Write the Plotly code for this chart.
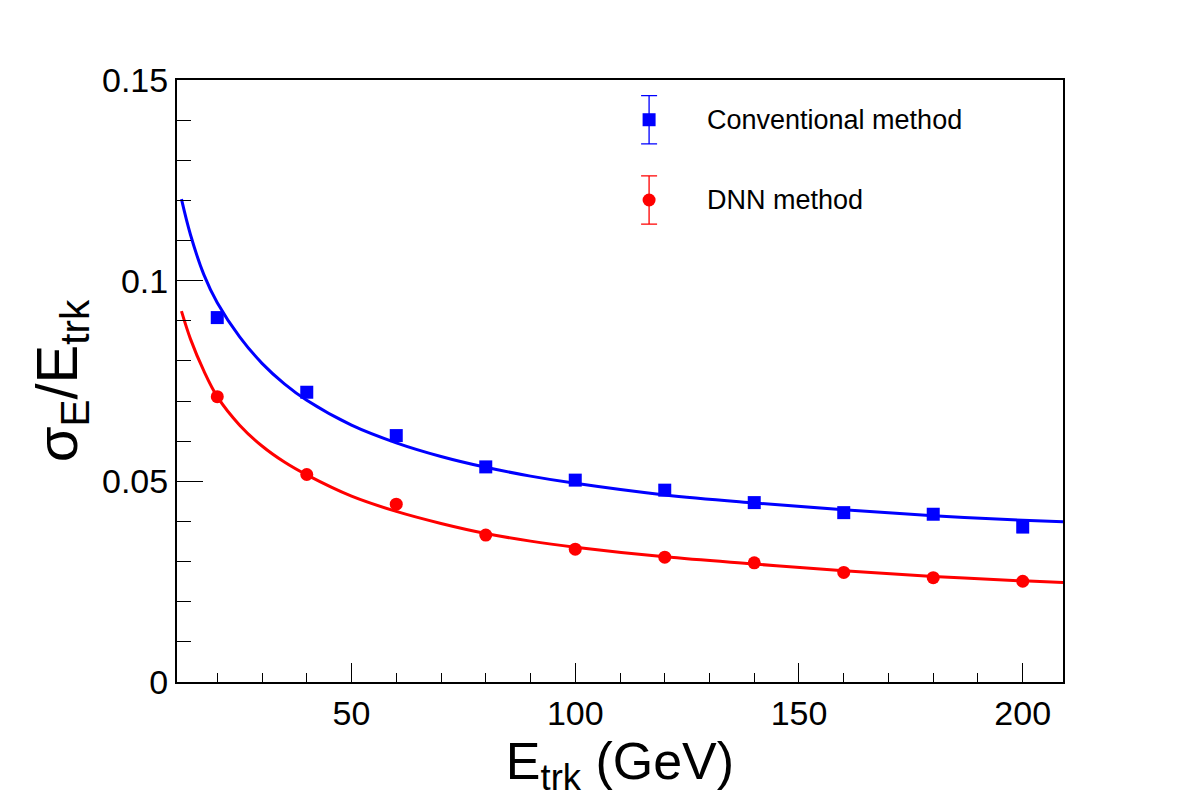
import plotly.graph_objects as go

# ---- data ----
energy = [20, 40, 60, 80, 100, 120, 140, 160, 180, 200]
conv_res = [0.0908, 0.0722, 0.0614, 0.0536, 0.0503, 0.0478, 0.0447, 0.0422, 0.0418, 0.0386]
dnn_res = [0.0711, 0.0517, 0.0443, 0.0366, 0.0331, 0.0311, 0.0297, 0.0273, 0.0260, 0.0251]

# fitted curves
fit_energy = [12, 14, 17, 20, 25, 30, 35, 40, 50, 60, 70, 80, 90, 100, 120, 140, 160, 180, 200, 209]
conv_fit = [0.1203, 0.1115, 0.1015, 0.0945, 0.0860, 0.0794, 0.0743, 0.0702, 0.0640, 0.0596,
            0.0562, 0.0535, 0.0513, 0.0495, 0.0466, 0.0446, 0.0429, 0.0414, 0.0403, 0.0399]
dnn_fit = [0.0924, 0.0855, 0.0775, 0.0711, 0.0640, 0.0588, 0.0548, 0.0516, 0.0463, 0.0425,
           0.0395, 0.0370, 0.0351, 0.0336, 0.0312, 0.0294, 0.0277, 0.0263, 0.0252, 0.0248]

series_names = ["Conventional method", "DNN method"]
x_ticks = [50, 100, 150, 200]
y_ticks = [0, 0.05, 0.1, 0.15]

BLUE = "#0000ff"
RED = "#ff0000"
FONT = "Liberation Sans, Arial, Helvetica, sans-serif"

fig = go.Figure()

fig.add_trace(go.Scatter(x=fit_energy, y=conv_fit, mode="lines", line=dict(color=BLUE, width=3, shape="spline"),
                         showlegend=False, hoverinfo="skip"))
fig.add_trace(go.Scatter(x=fit_energy, y=dnn_fit, mode="lines", line=dict(color=RED, width=3, shape="spline"),
                         showlegend=False, hoverinfo="skip"))
fig.add_trace(go.Scatter(x=energy, y=conv_res, mode="markers", name=series_names[0],
                         marker=dict(symbol="square", size=13, color=BLUE, line=dict(width=0)),
                         showlegend=False))
fig.add_trace(go.Scatter(x=energy, y=dnn_res, mode="markers", name=series_names[1],
                         marker=dict(symbol="circle", size=13, color=RED, line=dict(width=0)),
                         showlegend=False))

# hand-drawn legend (marker with error bar + label)
leg_x = 116.5
leg_y = [0.1401, 0.1201]
leg_colors = [BLUE, RED]
leg_symbols = ["square", "circle"]
for i in range(2):
    fig.add_trace(go.Scatter(x=[leg_x], y=[leg_y[i]], mode="markers",
                             marker=dict(symbol=leg_symbols[i], size=13, color=leg_colors[i], line=dict(width=0)),
                             error_y=dict(type="constant", value=0.006, width=8, thickness=1.3, color=leg_colors[i]),
                             showlegend=False, hoverinfo="skip"))
    fig.add_annotation(x=129.0, y=leg_y[i], xref="x", yref="y", text=series_names[i], showarrow=False,
                       xanchor="left", yanchor="middle", font=dict(family=FONT, size=27, color="black"))

fig.update_layout(
    width=1182, height=803,
    margin=dict(l=177, r=119, t=80, b=121),
    paper_bgcolor="white", plot_bgcolor="white",
    font=dict(family=FONT, color="black"),
)

fig.update_xaxes(
    range=[11, 209], tickvals=x_ticks, ticktext=[str(v) for v in x_ticks],
    ticks="inside", ticklen=19, tickwidth=1, tickcolor="black",
    minor=dict(dtick=10, tick0=0, ticks="inside", ticklen=9, tickwidth=1, tickcolor="black"),
    showline=True, linecolor="black", linewidth=2, mirror=True,
    showgrid=False, zeroline=False,
    tickfont=dict(family=FONT, size=34),
    title=dict(text="E<sub>trk</sub> (GeV)", font=dict(family=FONT, size=52), standoff=8),
)
fig.update_yaxes(
    range=[0, 0.15], tickvals=y_ticks, ticktext=["0", "0.05", "0.1", "0.15"],
    ticks="inside", ticklen=26, tickwidth=1, tickcolor="black",
    minor=dict(dtick=0.01, tick0=0, ticks="inside", ticklen=14, tickwidth=1, tickcolor="black"),
    showline=True, linecolor="black", linewidth=2, mirror=True,
    showgrid=False, zeroline=False,
    tickfont=dict(family=FONT, size=34),
    title=dict(text="σ<sub>E</sub>/E<sub>trk</sub>", font=dict(family=FONT, size=58), standoff=6),
)

fig.write_html("out.html")
